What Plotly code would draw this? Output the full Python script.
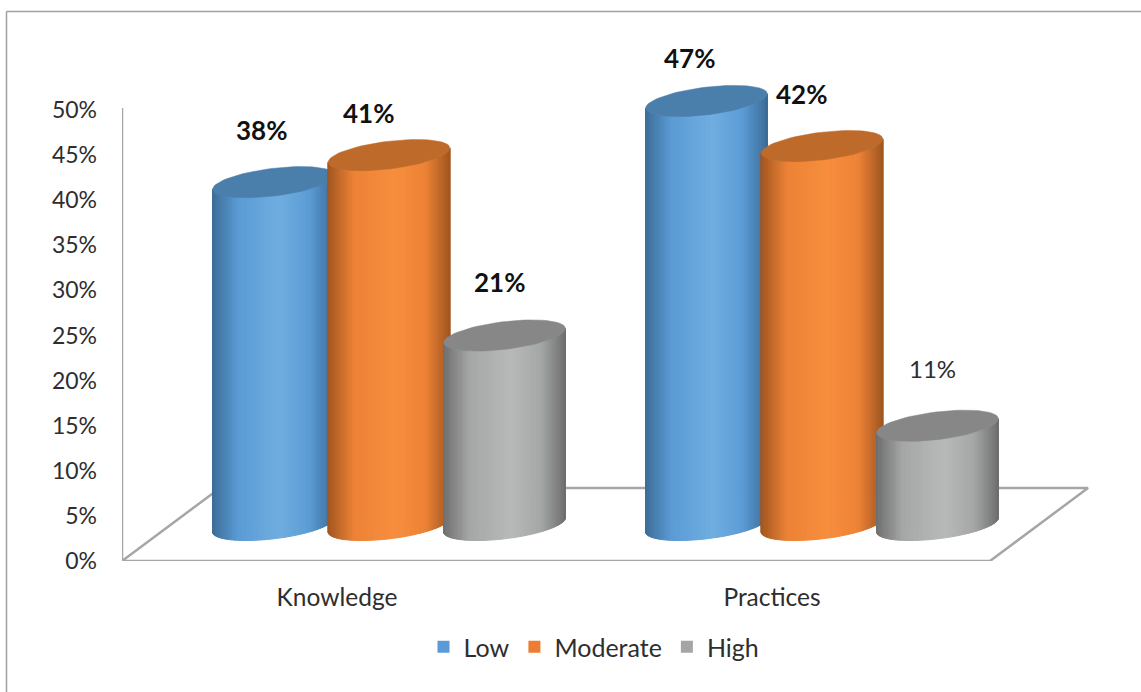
import math
import plotly.graph_objects as go

categories = ["Knowledge", "Practices"]
series_names = ["Low", "Moderate", "High"]
low = [38, 47]
moderate = [41, 42]
high = [21, 11]
y_ticks = [0, 5, 10, 15, 20, 25, 30, 35, 40, 45, 50]
y_tick_labels = [f"{v}%" for v in y_ticks]

W, H = 1141, 692
FONT = "Lato"
TXT = "#2e2e2e"
L, R, B = 122, 1100, 561
PX_Y = 9.02          # pixels per percentage point
PX_X = 433.0         # pixels per category step
C0 = 389.0           # pixel of first group's centre
STEP = 115.5         # pixel spacing of cylinders inside a group
DEPTH = 4.0          # percentage points the cylinders stand above the front of the floor
A, Bm, TH = 61.3, 13.8, math.radians(7.0)  # tilted ellipse, pixels
EPS = math.atan(Bm / A * math.tan(TH))
N = 64

palette = [
    dict(edge=(60, 108, 150), mid=(91, 155, 213), light=(112, 174, 224), top=(74, 126, 171), sw="#5B9BD5"),
    dict(edge=(160, 86, 32), mid=(237, 130, 54), light=(247, 142, 62), top=(189, 106, 42), sw="#ED7D31"),
    dict(edge=(110, 110, 110), mid=(165, 167, 167), light=(184, 186, 186), top=(135, 135, 135), sw="#A5A5A5"),
]
series = [low, moderate, high]
# label placement relative to the cylinder top (pixels): dx, height above
label_dx = [[-12, -17], [-21, -21], [-5, -5]]
label_up = [[52, 43], [42, 52], [54, 57]]
label_bold = [[True, True], [True, True], [True, False]]
tick_shift = [-52, -50]


def fx(px):
    return (px - C0) / PX_X


def fy(px):
    return (B - px) / PX_Y


def pt(t):
    X, Y = A * math.cos(t), Bm * math.sin(t)
    return X * math.cos(TH) - Y * math.sin(TH), X * math.sin(TH) + Y * math.cos(TH)


def shade(p, s):
    stops = [(0.0, p["edge"]), (0.22, p["mid"]), (0.55, p["light"]), (0.8, p["mid"]), (1.0, p["edge"])]
    for (s0, c0), (s1, c1) in zip(stops, stops[1:]):
        if s <= s1:
            f = (s - s0) / (s1 - s0)
            return "rgb(%d,%d,%d)" % tuple(round(a + (b - a) * f) for a, b in zip(c0, c1))
    return "rgb(%d,%d,%d)" % p["edge"]


fig = go.Figure()

# wall and floor lines
fl_px = [(L, 108), (L, B), (990, B), (1088, 488), (220, 488), (L, B)]
fig.add_trace(go.Scatter(x=[fx(p[0]) for p in fl_px], y=[fy(p[1]) for p in fl_px], mode="lines",
                         line=dict(color="#a6a6a6", width=2.5), showlegend=False, hoverinfo="skip"))

# real bars (carry values and legend); cylinders are drawn over them
for si, (name, vals, p) in enumerate(zip(series_names, series, palette)):
    xs = [i + (si - 1) * STEP / PX_X for i in range(len(categories))]
    fig.add_trace(go.Bar(x=xs, y=vals, base=[DEPTH] * len(vals), width=60 / PX_X, name=name,
                         marker=dict(color=p["sw"], line=dict(width=0))))

# cylinder bodies and tops
for si, (vals, p) in enumerate(zip(series, palette)):
    xs = [i + (si - 1) * STEP / PX_X for i in range(len(categories))]
    for k in range(N):
        t0 = math.pi - EPS + math.pi * k / N
        t1 = math.pi - EPS + math.pi * (k + 1) / N
        d0, d1 = pt(t0), pt(t1)
        s = ((d0[0] + d1[0]) / 2 + A) / (2 * A)
        px_, py_ = [], []
        for xc, v in zip(xs, vals):
            top, bot = v + DEPTH, DEPTH
            px_ += [xc + d0[0] / PX_X, xc + d1[0] / PX_X, xc + d1[0] / PX_X, xc + d0[0] / PX_X, xc + d0[0] / PX_X, None]
            py_ += [top + d0[1] / PX_Y, top + d1[1] / PX_Y, bot + d1[1] / PX_Y, bot + d0[1] / PX_Y, top + d0[1] / PX_Y, None]
        col = shade(p, max(0, min(1, s)))
        fig.add_trace(go.Scatter(x=px_, y=py_, mode="lines", fill="toself", fillcolor=col,
                                 line=dict(color=col, width=1), showlegend=False, hoverinfo="skip"))
    ex, ey = [], []
    for xc, v in zip(xs, vals):
        for j in range(73):
            d = pt(2 * math.pi * j / 72)
            ex.append(xc + d[0] / PX_X)
            ey.append(v + DEPTH + d[1] / PX_Y)
        ex.append(None)
        ey.append(None)
    col = "rgb(%d,%d,%d)" % p["top"]
    fig.add_trace(go.Scatter(x=ex, y=ey, mode="lines", fill="toself", fillcolor=col,
                             line=dict(color=col, width=0.5), showlegend=False, hoverinfo="skip"))

# value labels
anns = []
for si, vals in enumerate(series):
    for i, v in enumerate(vals):
        xc = i + (si - 1) * STEP / PX_X
        bold = label_bold[si][i]
        anns.append(dict(x=xc + label_dx[si][i] / PX_X, y=v + DEPTH + label_up[si][i] / PX_Y,
                         text=f"<b>{v}%</b>" if bold else f"{v}%", showarrow=False,
                         xanchor="center", yanchor="middle",
                         font=dict(family=FONT, size=26 if bold else 24, color="#111111" if bold else TXT)))

# outer frame: left and top only
frame = [
    dict(type="line", xref="paper", yref="paper", x0=(6.5 - L) / (R - L), x1=(6.5 - L) / (R - L),
         y0=(B - 692) / (B - 6), y1=(B - 11.5) / (B - 6), line=dict(color="#a0a0a0", width=1.5)),
    dict(type="line", xref="paper", yref="paper", x0=(6.5 - L) / (R - L), x1=(1141 - L) / (R - L),
         y0=(B - 11.5) / (B - 6), y1=(B - 11.5) / (B - 6), line=dict(color="#a0a0a0", width=1.5)),
]

fig.update_layout(
    width=W, height=H, autosize=False,
    margin=dict(l=L, r=W - R, t=6, b=H - B, pad=0),
    paper_bgcolor="white", plot_bgcolor="white",
    barmode="overlay", annotations=anns, shapes=frame,
    font=dict(family=FONT, size=22, color=TXT),
    xaxis=dict(range=[fx(L), fx(R)], tickmode="array",
               tickvals=[i + s / PX_X for i, s in enumerate(tick_shift)], ticktext=categories,
               showgrid=False, zeroline=False, showline=False, ticks="", ticklabelstandoff=19,
               tickfont=dict(family=FONT, size=24.5, color=TXT), fixedrange=True),
    yaxis=dict(range=[0, (B - 6) / PX_Y], tickmode="array", tickvals=y_ticks, ticktext=y_tick_labels,
               showgrid=False, zeroline=False, showline=False, ticks="", ticklabelstandoff=24,
               tickfont=dict(family=FONT, size=23, color=TXT), fixedrange=True),
    legend=dict(orientation="h", x=(594 - L) / (R - L), xanchor="center", y=(B - 647) / (B - 6), yanchor="middle",
                font=dict(family=FONT, size=25, color=TXT), bgcolor="rgba(0,0,0,0)"),
    showlegend=True,
)

fig.write_html("out.html", config={"displayModeBar": False},
               post_script="document.body.style.margin='0';document.body.style.overflow='hidden';")
